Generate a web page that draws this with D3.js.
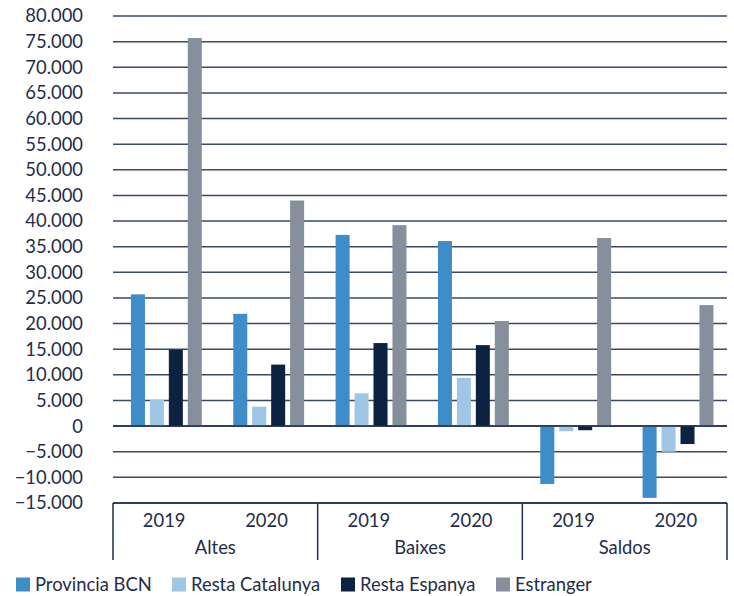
<!DOCTYPE html>
<html>
<head>
<meta charset="utf-8">
<script src="https://cdn.jsdelivr.net/npm/d3@7"></script>
<style>
  body { margin: 0; background: #fff; }
  text { font-family: Lato, "Noto Sans", sans-serif; fill: #1f2d4a; }
</style>
</head>
<body>
<div id="chart"></div>
<script>
"use strict";

// dades
const groups = ["Altes", "Baixes", "Saldos"];
const years = ["2019", "2020"];
const series = ["Provincia BCN", "Resta Catalunya", "Resta Espanya", "Estranger"];
const colors = ["#3f8dc8", "#a0c6e6", "#0d2240", "#85909c"];

// un valor per grup/any, en l'ordre: Altes 2019, Altes 2020, Baixes 2019, Baixes 2020, Saldos 2019, Saldos 2020
const provinciaBCN   = [25700, 21900, 37300, 36100, -11300, -14000];
const restaCatalunya = [5100, 3800, 6400, 9400, -1000, -5000];
const restaEspanya   = [14900, 12000, 16200, 15800, -800, -3500];
const estranger      = [75700, 44000, 39200, 20500, 36700, 23600];
const values = [provinciaBCN, restaCatalunya, restaEspanya, estranger];

const yTicks = d3.range(-15000, 80001, 5000);

const svgWidth = 734;
const svgHeight = 596;
const margin = { top: 16, right: 7, bottom: 93, left: 113 };
const width = svgWidth - margin.left - margin.right;
const height = svgHeight - margin.top - margin.bottom;
const fontSize = "18.4px";

const svg = d3.select("#chart")
    .append("svg")
    .attr("width", svgWidth)
    .attr("height", svgHeight);

const g = svg.append("g")
    .attr("transform", "translate(" + margin.left + "," + margin.top + ")");

const cats = [];
groups.forEach(gr => years.forEach(yr => cats.push(gr + "|" + yr)));

const x0 = d3.scaleBand().domain(groups).range([0, width]);
const x1 = d3.scaleBand().domain(cats).range([0, width]);
const xs = d3.scaleBand()
    .domain(series)
    .range([0, x1.bandwidth()])
    .paddingInner(0.26)
    .paddingOuter(0.83)
    .align(0.57);

const y = d3.scaleLinear()
    .domain([-15000, 80000])
    .range([height, 0]);

const fmt = d => d3.format(",")(d).replace(/,/g, ".");

// línies de quadrícula
g.append("g")
    .selectAll("line")
    .data(yTicks)
    .enter().append("line")
    .attr("x1", 0)
    .attr("x2", width)
    .attr("y1", d => y(d))
    .attr("y2", d => y(d))
    .attr("stroke", "#3a4964")
    .attr("stroke-width", 1.5);

// etiquetes eix Y
g.append("g")
    .selectAll("text")
    .data(yTicks)
    .enter().append("text")
    .attr("x", -30)
    .attr("y", d => y(d))
    .attr("dy", "0.35em")
    .attr("text-anchor", "end")
    .style("font-size", fontSize)
    .text(d => fmt(d));

// barres
series.forEach((s, i) => {
    g.append("g")
        .selectAll("rect")
        .data(values[i])
        .enter().append("rect")
        .attr("x", (d, j) => x1(cats[j]) + xs(s))
        .attr("width", xs.bandwidth())
        .attr("y", d => y(Math.max(0, d)))
        .attr("height", d => Math.abs(y(d) - y(0)))
        .attr("fill", colors[i]);
});

// línia zero per sobre de les barres
g.append("line")
    .attr("x1", 0).attr("x2", width)
    .attr("y1", y(0)).attr("y2", y(0))
    .attr("stroke", "#1f2d4a")
    .attr("stroke-width", 1.5);

// eix X en dos nivells
const axisG = g.append("g").attr("transform", "translate(0," + height + ")");
const boxH = 57;

axisG.append("line")
    .attr("x1", 0).attr("x2", width)
    .attr("y1", 0).attr("y2", 0)
    .attr("stroke", "#1f2d4a")
    .attr("stroke-width", 1.5);

axisG.selectAll(".sep")
    .data(groups.map(gr => x0(gr)).concat([width]))
    .enter().append("line")
    .attr("class", "sep")
    .attr("x1", d => d).attr("x2", d => d)
    .attr("y1", 0).attr("y2", boxH)
    .attr("stroke", "#1f2d4a")
    .attr("stroke-width", 1.5);

axisG.selectAll(".year")
    .data(cats)
    .enter().append("text")
    .attr("class", "year")
    .attr("x", d => x1(d) + x1.bandwidth() / 2)
    .attr("y", 24)
    .attr("text-anchor", "middle")
    .style("font-size", fontSize)
    .text(d => d.split("|")[1]);

axisG.selectAll(".grp")
    .data(groups)
    .enter().append("text")
    .attr("class", "grp")
    .attr("x", d => x0(d) + x0.bandwidth() / 2)
    .attr("y", 51)
    .attr("text-anchor", "middle")
    .style("font-size", fontSize)
    .text(d => d);

// llegenda
const legendX = [16, 172, 341, 496];
const legend = svg.append("g").attr("transform", "translate(0,577.5)");
series.forEach((s, i) => {
    const item = legend.append("g").attr("transform", "translate(" + legendX[i] + ",0)");
    item.append("rect")
        .attr("width", 14)
        .attr("height", 14)
        .attr("fill", colors[i]);
    item.append("text")
        .attr("x", 19)
        .attr("y", 7)
        .attr("dy", "0.36em")
        .style("font-size", fontSize)
        .text(s);
});
</script>
</body>
</html>
